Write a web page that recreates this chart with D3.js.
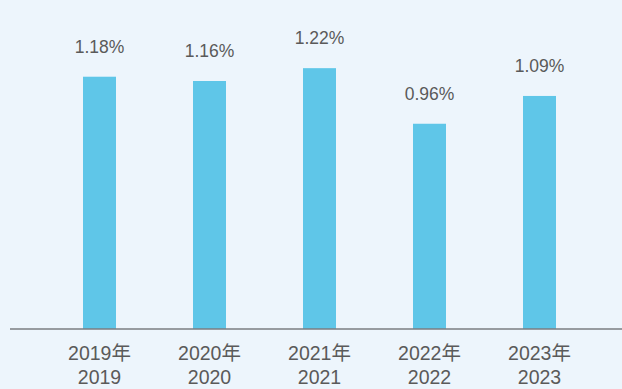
<!DOCTYPE html>
<html>
<head>
<meta charset="utf-8">
<script src="https://cdn.jsdelivr.net/npm/d3@7"></script>
<style>
  html, body { margin: 0; padding: 0; background: #edf5fc; }
  svg { display: block; }
  text { font-family: "Liberation Sans", Arial, "Noto Sans CJK SC", sans-serif; fill: #5a5a5a; }
</style>
</head>
<body>
<svg id="chart" width="622" height="389"></svg>
<script>
const years = ["2019", "2020", "2021", "2022", "2023"]
const labelsTop = ["2019年", "2020年", "2021年", "2022年", "2023年"]
const values = [1.18, 1.16, 1.22, 0.96, 1.09]

const svg = d3.select("#chart")
const width = 622, height = 389
const baseY = 329

const x = d3.scaleBand()
    .domain(years)
    .range([44.5, 594.5])
    .paddingInner(0.7)
    .paddingOuter(0.35)

const y = d3.scaleLinear()
    .domain([0, 1.5])
    .range([baseY, baseY - 1.5 * 213.8])

svg.append("g")
    .selectAll("rect")
    .data(values)
    .enter().append("rect")
    .attr("x", (d, i) => x(years[i]))
    .attr("y", d => y(d))
    .attr("width", x.bandwidth())
    .attr("height", d => baseY - y(d))
    .style("fill", "#5fc6e8")

// value labels
svg.append("g")
    .selectAll("text")
    .data(values)
    .enter().append("text")
    .attr("x", (d, i) => x(years[i]) + x.bandwidth() / 2)
    .attr("y", d => y(d) - 24)
    .attr("text-anchor", "middle")
    .style("font-size", "17.5px")
    .text(d => d.toFixed(2) + "%")

// axis line
svg.append("line")
    .attr("x1", 10).attr("x2", width)
    .attr("y1", baseY).attr("y2", baseY)
    .style("stroke", "#7a7d82")
    .style("stroke-width", 1.5)

const xl = svg.append("g")
    .selectAll("g")
    .data(years)
    .enter().append("g")
    .attr("transform", d => `translate(${x(d) + x.bandwidth() / 2},0)`)

xl.append("text")
    .attr("y", 360)
    .attr("text-anchor", "middle")
    .style("font-size", "19.5px")
    .text((d, i) => labelsTop[i])

xl.append("text")
    .attr("y", 384)
    .attr("text-anchor", "middle")
    .style("font-size", "19.5px")
    .text(d => d)
</script>
</body>
</html>
